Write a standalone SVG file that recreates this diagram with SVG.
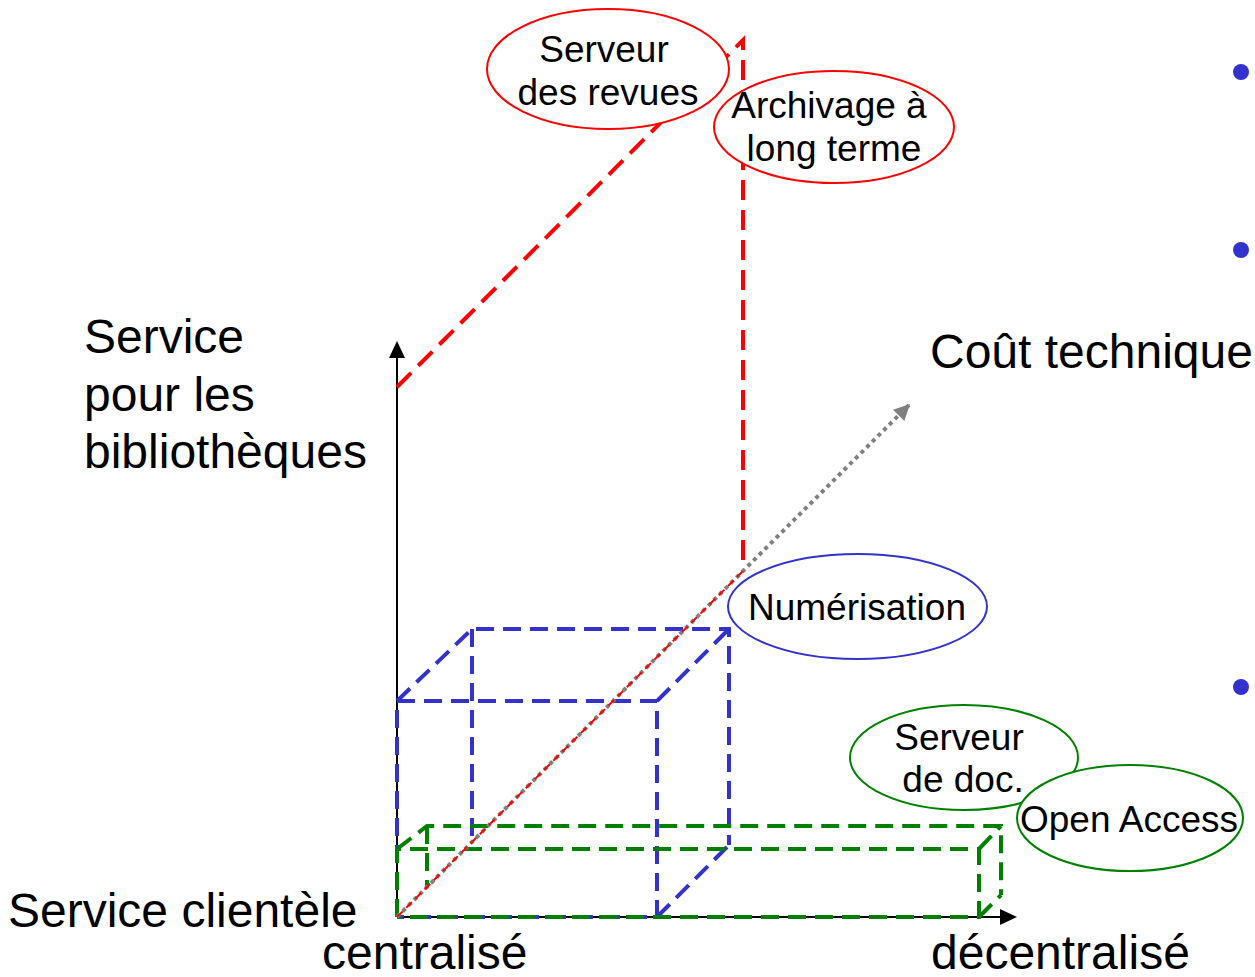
<svg xmlns="http://www.w3.org/2000/svg" width="1255" height="977" viewBox="0 0 1255 977">
<style>
  text { font-family: "Liberation Sans", Arial, sans-serif; fill: #000; }
  .big { font-size: 48px; }
  .lbl { font-size: 37px; text-anchor: middle; }
  .axis { stroke: #000; stroke-width: 2; fill: none; }
  .blue { stroke: #3333cc; stroke-width: 4; stroke-dasharray: 18 9; fill: none; }
  .green { stroke: #008000; stroke-width: 4; stroke-dasharray: 18 9; fill: none; }
  .red { stroke: #ff0000; stroke-width: 4; stroke-dasharray: 20 10; fill: none; }
  .redthin { stroke: #ff0000; stroke-width: 2; stroke-dasharray: 8 5; fill: none; }
  .gray { stroke: #808080; stroke-width: 4; stroke-dasharray: 4 4; fill: none; }
  .er { fill: #fff; stroke: #ff0000; stroke-width: 2; }
  .eb { fill: #fff; stroke: #3333cc; stroke-width: 2; }
  .eg { fill: #fff; stroke: #008000; stroke-width: 2; }
</style>
<defs>
  <marker id="ahg" viewBox="0 0 10 10" refX="10" refY="5" markerWidth="20" markerHeight="16" markerUnits="userSpaceOnUse" orient="auto">
    <path d="M0,0 L10,5 L0,10 Z" fill="#808080"/>
  </marker>
</defs>

<g id="labels">
  <text class="big" x="84" y="353">Service</text>
  <text class="big" x="84" y="411">pour les</text>
  <text class="big" x="84" y="468">bibliothèques</text>
  <text class="big" x="930" y="368">Coût technique</text>
  <text class="big" x="8" y="927">Service clientèle</text>
  <text class="big" x="322" y="969">centralisé</text>
  <text class="big" x="931" y="969">décentralisé</text>
</g>

<g id="bullets" fill="#3333cc">
  <circle cx="1241" cy="72" r="8"/>
  <circle cx="1241" cy="250" r="8"/>
  <circle cx="1241" cy="687" r="8"/>
</g>

<g id="connectors">
  <line class="axis" x1="397" y1="917" x2="397" y2="343"/>
  <path d="M397,341 L389,358 L405,358 Z" fill="#000"/>
  <line class="axis" x1="397" y1="917" x2="1000" y2="917"/>
  <path d="M1017,917 L1000,909 L1000,925 Z" fill="#000"/>

  <path class="red" d="M397,387 L743,40 L743,565"/>

  <g id="blue-box">
    <path class="blue" d="M397,917 L397,701 L657,701 L657,917 L397,917"/>
    <path class="blue" d="M397,701 L472,629 L729,629 L729,845"/>
    <path class="blue" d="M472,629 L472,843"/>
    <path class="blue" d="M657,701 L729,629"/>
    <path class="blue" d="M657,917 L729,845"/>
  </g>

  <g id="green-box">
    <path class="green" d="M397,917 L397,849 L979,849 L979,917 L397,917"/>
    <path class="green" d="M397,849 L427,826 L1001,826 L1001,895"/>
    <path class="green" d="M427,826 L427,887"/>
    <path class="green" d="M979,849 L1001,826"/>
    <path class="green" d="M979,917 L1001,895"/>
  </g>

  <line class="gray" x1="397" y1="917" x2="910" y2="404" marker-end="url(#ahg)"/>
  <line class="redthin" x1="397" y1="917" x2="743" y2="571"/>
</g>

<g id="node-serveur-revues">
  <ellipse class="er" cx="608" cy="69" rx="121" ry="60"/>
  <text class="lbl" x="604" y="62">Serveur</text>
  <text class="lbl" x="608" y="105">des revues</text>
</g>

<g id="node-archivage">
  <ellipse class="er" cx="834" cy="127" rx="120" ry="56"/>
  <text class="lbl" x="829" y="118">Archivage à</text>
  <text class="lbl" x="834" y="161">long terme</text>
</g>

<g id="node-numerisation">
  <ellipse class="eb" cx="857.5" cy="606.5" rx="129.5" ry="52.5"/>
  <text class="lbl" x="857" y="620">Numérisation</text>
</g>

<g id="node-serveur-doc">
  <ellipse class="eg" cx="964" cy="757.5" rx="114" ry="52.5"/>
  <text class="lbl" x="959" y="750">Serveur</text>
  <text class="lbl" x="963" y="792">de doc.</text>
</g>

<g id="node-open-access">
  <ellipse class="eg" cx="1130" cy="818" rx="113" ry="53"/>
  <text class="lbl" x="1129" y="832">Open Access</text>
</g>
</svg>
